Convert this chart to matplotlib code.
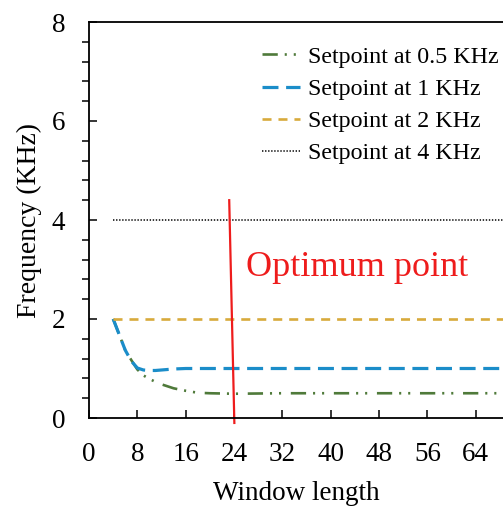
import numpy as np
import matplotlib
matplotlib.use('Agg')
import matplotlib.pyplot as plt
from matplotlib.ticker import MultipleLocator

plt.rcParams['font.family'] = ['Liberation Serif', 'DejaVu Serif']
plt.rcParams['lines.scale_dashes'] = False

# window length values
win = [4, 6, 7, 8, 9, 10, 11, 12, 14, 16, 18, 20, 24, 32, 40, 48, 56, 64, 72]
f_05 = [2.0, 1.37, 1.17, 0.98, 0.86, 0.79, 0.73, 0.68, 0.60, 0.55, 0.51, 0.50, 0.49, 0.50, 0.50, 0.50, 0.50, 0.50, 0.50]
f_1 = [2.0, 1.37, 1.15, 1.01, 0.97, 0.96, 0.96, 0.97, 0.99, 1.0, 1.0, 1.0, 1.0, 1.0, 1.0, 1.0, 1.0, 1.0, 1.0]
f_2 = [2.0] * len(win)
f_4 = [4.0] * len(win)

opt_x = [23.2, 24.05]
opt_y = [4.4, -0.1]

fig = plt.figure(figsize=(5.03, 5.08), dpi=100)
ax = fig.add_axes([89 / 503, 90 / 508, 1 - 89 / 503, 396 / 508])

ax.plot(win, f_05, color='#4f7a3a', lw=1.9, ls=(0, (11, 5, 1.5, 5, 1.5, 7)), label='Setpoint at 0.5 KHz')
ax.plot(win, f_1, color='#1b8dc9', lw=2.3, ls=(0, (11.5, 5.5)), label='Setpoint at 1 KHz')
ax.plot(win, f_2, color='#d8aa3c', lw=1.9, ls=(0, (6.5, 5)), label='Setpoint at 2 KHz')
ax.plot(win, f_4, color='black', lw=1.1, ls=(0, (1, 1.2)), label='Setpoint at 4 KHz')

ax.plot(opt_x, opt_y, color='#ee1c1c', lw=1.6, clip_on=False)
ax.text(25.9, 3.05, 'Optimum point', color='#ee1c1c', fontsize=26, va='center', ha='left')

ax.set_xlim(0, 68.5)
ax.set_ylim(0, 8)
ax.xaxis.set_major_locator(MultipleLocator(8))
ax.yaxis.set_major_locator(MultipleLocator(2))
ax.yaxis.set_minor_locator(MultipleLocator(0.4))
ax.tick_params(axis='both', direction='in', labelsize=19.5, width=1.1)
ax.tick_params(axis='x', length=6, pad=17)
ax.tick_params(axis='y', which='major', length=6, pad=17, right=False)
ax.tick_params(axis='y', which='minor', length=5, width=1.1)
ax.tick_params(axis='x', top=False)
for s in ax.spines.values():
    s.set_linewidth(1.3)
ax.spines['right'].set_visible(False)

ax.set_xlabel('Window length', fontsize=19.5, labelpad=10)
ax.set_ylabel('Frequency (KHz)', fontsize=20, labelpad=7)

fig.legend(loc='upper left', bbox_to_anchor=(250 / 503, 1 - 34 / 508), frameon=False,
           fontsize=17.3, borderpad=0, handlelength=1.6, handletextpad=0.3, labelspacing=0.43)

fig.savefig('out.png', dpi=100)
